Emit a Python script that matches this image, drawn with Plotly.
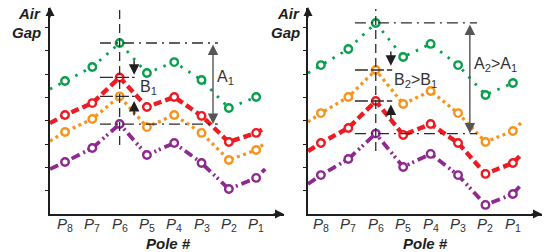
import plotly.graph_objects as go

W, H = 546, 252

# ---------------- data ----------------
poles = ["8", "7", "6", "5", "4", "3", "2", "1"]          # P8 ... P1
tick_labels = [f"<i>P</i><sub>{p}</sub>" for p in poles]

# left panel
left_green  = [5.71, 6.31, 7.34, 6.05, 6.52, 5.75, 4.55, 5.02]
left_red    = [4.25, 4.76, 5.86, 4.59, 5.02, 4.21, 3.09, 3.48]
left_orange = [3.52, 4.08, 5.05, 3.73, 4.25, 3.48, 2.32, 2.75]
left_purple = [2.23, 2.83, 3.86, 2.53, 3.05, 2.19, 1.07, 1.55]
# line continuation at the axis (lead) and after P1 (tail)
left_lead = {"green": 5.36, "red": 3.90, "orange": 3.13, "purple": 1.93}
left_tail = {"green": 5.24, "red": 3.69, "orange": 3.05, "purple": 1.93}

# right panel
right_green  = [6.39, 7.08, 8.20, 6.74, 7.30, 6.39, 5.11, 5.62]
right_orange = [4.33, 5.02, 6.18, 4.72, 5.28, 4.33, 3.09, 3.56]
right_red    = [3.05, 3.69, 4.85, 3.39, 3.86, 3.05, 1.72, 2.19]
right_purple = [1.67, 2.36, 3.45, 2.02, 2.58, 1.67, 0.39, 0.86]
right_lead = {"green": 6.05, "orange": 3.95, "red": 2.70, "purple": 1.29}
right_tail = {"green": 5.88, "orange": 3.95, "red": 2.58, "purple": 1.29}

y_ticks = [1, 2, 3, 4, 5, 6, 7, 8]

# ---------------- styles ----------------
COL = {"green": "#0a9f4c", "red": "#ec1c24", "orange": "#f7941d", "purple": "#8e2a8f"}
LINE = {
    "green":  dict(width=2.8, dash="2.5px,7px"),
    "red":    dict(width=4.4, dash="8px,4px"),
    "orange": dict(width=3.3, dash="3px,3.5px"),
    "purple": dict(width=3.8, dash="9px,4px,2px,3px,2px,4px"),
}
REF = "#2b2b2b"
FONT = "Liberation Sans, Arial, Helvetica, sans-serif"

def px(x):   # pixel -> paper x
    return x / W

def py(y):   # pixel -> paper y
    return 1 - y / H

fig = go.Figure()
xs = list(range(len(poles)))

panels = [
    dict(xa="x", ya="y", lead_x=-0.55, tail_x=7.33,
         series=[("green", left_green), ("red", left_red),
                 ("orange", left_orange), ("purple", left_purple)],
         lead=left_lead, tail=left_tail),
    dict(xa="x2", ya="y2", lead_x=-0.47, tail_x=7.33,
         series=[("green", right_green), ("orange", right_orange),
                 ("red", right_red), ("purple", right_purple)],
         lead=right_lead, tail=right_tail),
]

for p in panels:
    for name, vals in p["series"]:
        fig.add_trace(go.Scatter(
            x=[p["lead_x"]] + xs + [p["tail_x"]],
            y=[p["lead"][name]] + vals + [p["tail"][name]],
            mode="lines", xaxis=p["xa"], yaxis=p["ya"],
            line=dict(color=COL[name], **LINE[name]),
            hoverinfo="skip", showlegend=False))
    for name, vals in p["series"]:
        fig.add_trace(go.Scatter(
            x=xs, y=vals, mode="markers", xaxis=p["xa"], yaxis=p["ya"],
            marker=dict(symbol="circle", size=7.5, color="white",
                        line=dict(color=COL[name], width=2.4)),
            showlegend=False))

# ---------------- reference lines & arrows ----------------
shapes = []
annos = []
i6 = poles.index("6")

def ref_lines(xr, yr, top, mid1, mid2, bot, x0, x1_long, x1_short, vbottom, ytop):
    shapes.append(dict(type="line", xref=xr, yref=yr, x0=i6, x1=i6, y0=vbottom, y1=ytop,
                       line=dict(color=REF, width=1.3, dash="9px,5px")))
    for lvl, x1, dash in [(top, x1_long, "11px,5px,2px,5px"), (bot, x1_long, "11px,5px,2px,5px"),
                          (mid1, x1_short, "13px,3px"), (mid2, x1_short, "13px,3px")]:
        shapes.append(dict(type="line", xref=xr, yref=yr, x0=x0, x1=x1, y0=lvl, y1=lvl,
                           line=dict(color=REF, width=1.3, dash=dash)))

# left panel
ref_lines("x", "y", left_green[i6], left_red[i6], left_orange[i6], left_purple[i6],
          1.28, 5.6, 2.55, 2.96, 8.8)
# right panel
ref_lines("x2", "y2", right_green[i6], right_orange[i6], right_red[i6], right_purple[i6],
          1.24, 5.69, 2.6, 2.7, 8.8)

def arrow(xr, yr, x, y, ax, ay, both=False, color="#1e1e1e", size=1.3):
    annos.append(dict(xref=xr, yref=yr, axref=xr, ayref=yr, x=x, y=y, ax=ax, ay=ay,
                      text="", showarrow=True, arrowhead=2, arrowsize=size,
                      arrowwidth=1.4, arrowcolor=color,
                      arrowside="end+start" if both else "end", startarrowhead=2,
                      startarrowsize=size))

# A1 / A2 double arrows
arrow("x", "y", 5.42, left_purple[i6], 5.42, left_green[i6], both=True, color="#555555", size=1.5)
arrow("x2", "y2", 5.43, right_purple[i6], 5.43, right_green[i6], both=True, color="#555555", size=1.5)
# B1 arrows
arrow("x", "y", 2.53, left_red[i6] + 0.12, 2.53, left_red[i6] + 0.8, size=1.5)
arrow("x", "y", 2.53, left_orange[i6] - 0.2, 2.53, left_orange[i6] - 0.88, size=1.5)
# B2 arrows
arrow("x2", "y2", 2.55, right_orange[i6] + 0.18, 2.55, right_orange[i6] + 0.86, size=1.5)
arrow("x2", "y2", 2.55, right_red[i6] - 0.15, 2.55, right_red[i6] - 0.83, size=1.5)

# axis arrowheads
for (tx, ty, dx, dy) in [(284, 214, -12, 0), (542, 214, -12, 0), (50, 7, 0, 12), (308, 7, 0, 12)]:
    annos.append(dict(xref="paper", yref="paper", x=px(tx), y=py(ty), ax=dx, ay=dy,
                      text="", showarrow=True, arrowhead=2, arrowsize=1.2,
                      arrowwidth=1.5, arrowcolor="#1e1e1e"))

def label(text, x, y, xanchor="left", size=15, bold=False, italic=False, color="#333333"):
    t = text
    if italic:
        t = f"<i>{t}</i>"
    if bold:
        t = f"<b>{t}</b>"
    annos.append(dict(xref="paper", yref="paper", x=px(x), y=py(y), text=t,
                      showarrow=False, xanchor=xanchor, yanchor="middle",
                      font=dict(family=FONT, size=size, color=color)))

label("A<sub>1</sub>", 215, 77, size=16)
label("B<sub>1</sub>", 138, 87, size=16)
label("A<sub>2</sub>&gt;A<sub>1</sub>", 472, 64, size=16)
label("B<sub>2</sub>&gt;B<sub>1</sub>", 392, 80, size=16)
for xr in (43, 302):
    label("Air", xr, 13, xanchor="right", bold=True, italic=True, color="#1e1e1e")
    label("Gap", xr, 33, xanchor="right", bold=True, italic=True, color="#1e1e1e")
label("Pole #", 168, 243, xanchor="center", bold=True, italic=True, color="#1e1e1e")
label("Pole #", 425, 243, xanchor="center", bold=True, italic=True, color="#1e1e1e")

# category tick labels (placed just under the x axis)
for xr in ("x", "x2"):
    for xi, t in zip(xs, tick_labels):
        annos.append(dict(xref=xr, yref="paper", x=xi, y=py(224), text=t,
                          showarrow=False, xanchor="center", yanchor="middle",
                          font=dict(family=FONT, size=15, color="#333333")))

# ---------------- axes ----------------
xcommon = dict(tickmode="array", tickvals=xs, showticklabels=False, ticks="",
               showgrid=False, zeroline=False, showline=True, linecolor="#1e1e1e",
               linewidth=1.5, fixedrange=True)
ycommon = dict(tickmode="array", tickvals=y_ticks, ticks="outside", ticklen=3,
               tickwidth=1.2, tickcolor="#1e1e1e", showticklabels=False,
               showgrid=False, zeroline=False, showline=True, linecolor="#1e1e1e",
               linewidth=1.5, range=[0, (214 - 8) / 23.3],
               domain=[py(214), py(8)], fixedrange=True)

fig.update_layout(
    width=W, height=H, margin=dict(l=0, r=0, t=0, b=0),
    paper_bgcolor="white", plot_bgcolor="white",
    xaxis=dict(domain=[px(50), px(284)], range=[-0.55, 8.02], anchor="y", **xcommon),
    yaxis=dict(anchor="x", **ycommon),
    xaxis2=dict(domain=[px(308), px(542)], range=[-0.47, 8.06], anchor="y2", **xcommon),
    yaxis2=dict(anchor="x2", **ycommon),
    shapes=shapes, annotations=annos, showlegend=False,
)

fig.write_html("out.html", config={"displayModeBar": False},
               post_script="document.body.style.margin='0';")
